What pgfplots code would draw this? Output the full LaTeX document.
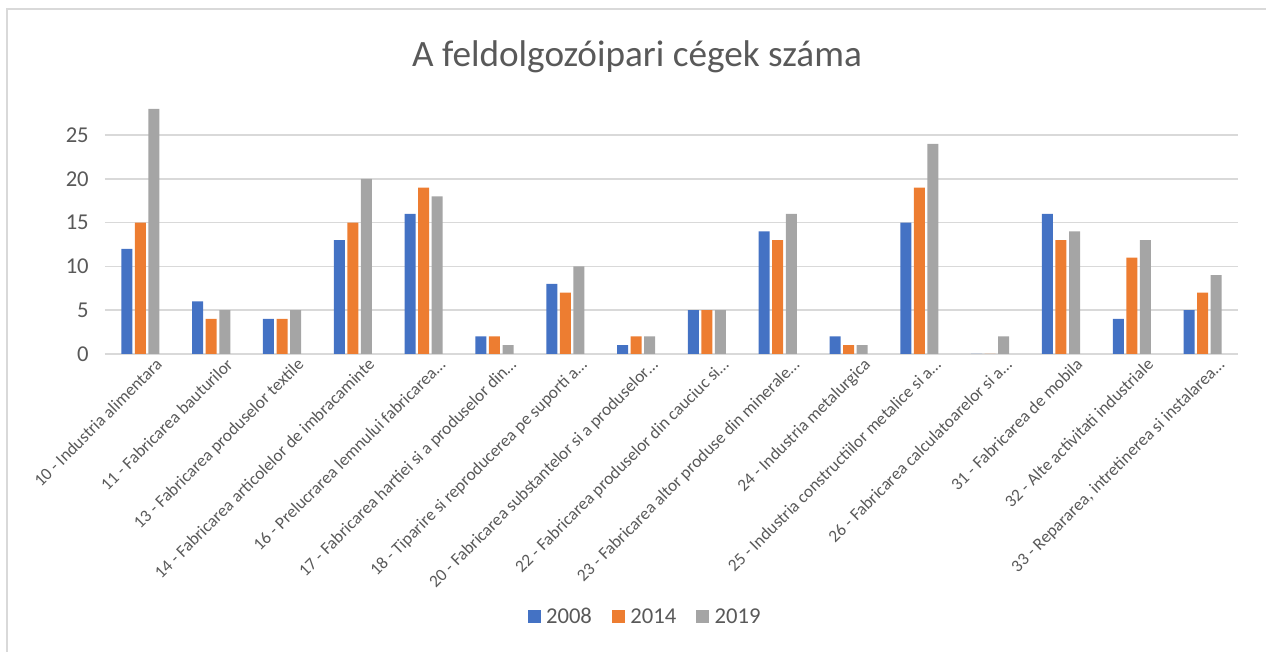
\documentclass[border=0pt]{standalone}
\usepackage{fontspec}
\setmainfont{Carlito}
\usepackage{pgfplots}
\pgfplotsset{compat=1.18}
\definecolor{cblue}{HTML}{4472C4}
\definecolor{corange}{HTML}{ED7D31}
\definecolor{cgray}{HTML}{A5A5A5}
\definecolor{ctext}{HTML}{595959}
\definecolor{cgrid}{HTML}{D9D9D9}
\begin{document}
\begin{tikzpicture}
\useasboundingbox (-78.75pt,-223.5pt) rectangle (870.75pt,265.5pt);
\draw[cgrid, line width=1.2pt] (-73.5pt,-260pt) rectangle (900pt,258.75pt);
\begin{axis}[
  at={(0pt,0pt)}, anchor=south west,
  scale only axis,
  width=849.75pt, height=190.5pt,
  ybar=1.9pt, bar width=8.25pt,
  xmin=-0.5, xmax=15.5, ymin=0, ymax=29,
  ytick={0,5,10,15,20,25},
  xtick={0,1,2,3,4,5,6,7,8,9,10,11,12,13,14,15},
  xticklabels={
    {10 - Industria alimentara},
    {11 - Fabricarea bauturilor},
    {13 - Fabricarea produselor textile},
    {14 - Fabricarea articolelor de imbracaminte},
    {16 - Prelucrarea lemnului fabricarea…},
    {17 - Fabricarea hartiei si a produselor din…},
    {18 - Tiparire si reproducerea pe suporti a…},
    {20 - Fabricarea substantelor si a produselor…},
    {22 - Fabricarea produselor din cauciuc si…},
    {23 - Fabricarea altor produse din minerale…},
    {24 - Industria metalurgica},
    {25 - Industria constructiilor metalice si a…},
    {26 - Fabricarea calculatoarelor si a…},
    {31 - Fabricarea de mobila},
    {32 - Alte activitati industriale},
    {33 - Repararea, intretinerea si instalarea…}},
  xticklabel style={rotate=45, anchor=north east, font=\fontsize{13pt}{14pt}\selectfont, text=ctext, inner sep=0pt, xshift=6pt, yshift=-9pt},
  yticklabel style={font=\fontsize{17pt}{18pt}\selectfont, text=ctext, inner sep=0pt, xshift=-12pt},
  /pgf/number format/assume math mode=true,
  major tick length=0pt,
  axis line style={draw=none},
  ymajorgrids, grid style={cgrid, line width=1.1pt},
  legend style={at={(0.477,-1.035)}, anchor=center, draw=none, fill=none,
    legend columns=3, font=\fontsize{17pt}{18pt}\selectfont, text=ctext,
    /tikz/every odd column/.append style={column sep=2pt},
    /tikz/every even column/.append style={column sep=13pt}},
  legend image code/.code={\fill[#1] (0pt,-4.9pt) rectangle (9.75pt,4.9pt);},
  clip=false,
]
\addplot[fill=cblue, draw=none] coordinates {(0,12) (1,6) (2,4) (3,13) (4,16) (5,2) (6,8) (7,1) (8,5) (9,14) (10,2) (11,15) (12,0) (13,16) (14,4) (15,5)};
\addplot[fill=corange, draw=none] coordinates {(0,15) (1,4) (2,4) (3,15) (4,19) (5,2) (6,7) (7,2) (8,5) (9,13) (10,1) (11,19) (12,0) (13,13) (14,11) (15,7)};
\addplot[fill=cgray, draw=none] coordinates {(0,28) (1,5) (2,5) (3,20) (4,18) (5,1) (6,10) (7,2) (8,5) (9,16) (10,1) (11,24) (12,2) (13,14) (14,13) (15,9)};
\legend{2008,2014,2019}
\end{axis}
\node[text=ctext, font=\fontsize{27.9pt}{29pt}\selectfont] at (399pt,222.75pt) {A feldolgozóipari cégek száma};
\end{tikzpicture}
\end{document}
